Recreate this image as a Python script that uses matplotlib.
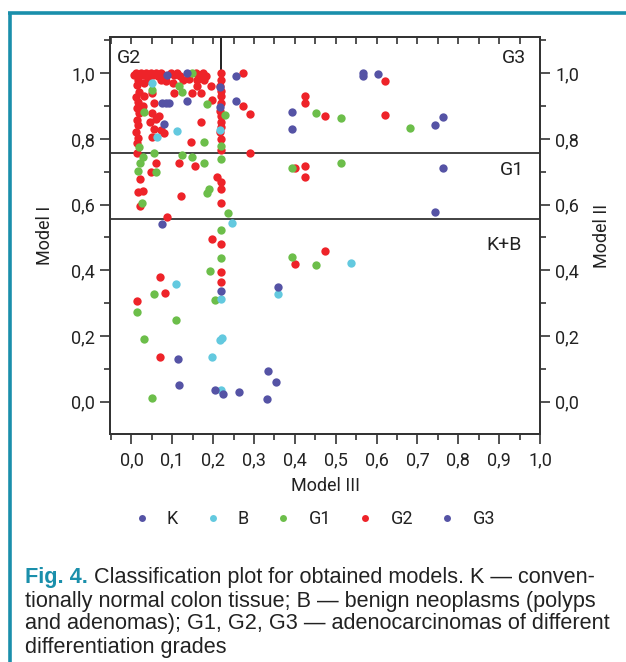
import matplotlib
matplotlib.use("Agg")
import matplotlib.pyplot as plt
from matplotlib.lines import Line2D
from matplotlib.ticker import MultipleLocator, FuncFormatter

# ---------------- data ----------------
k_x = [0.074, 0.218, 0.359, 0.114, 0.335, 0.355, 0.116, 0.205, 0.224, 0.263, 0.333]
k_y = [0.541, 0.337, 0.348, 0.130, 0.093, 0.061, 0.050, 0.036, 0.023, 0.030, 0.007]

b_x = [0.051, 0.112, 0.062, 0.217, 0.247, 0.218, 0.108, 0.221, 0.217, 0.196, 0.218, 0.358, 0.538]
b_y = [0.971, 0.825, 0.806, 0.827, 0.545, 0.314, 0.359, 0.193, 0.188, 0.137, 0.036, 0.328, 0.423]

g1_x = [0.149, 0.116, 0.123, 0.051, 0.186, 0.031, 0.230, 0.178, 0.218, 0.019, 0.029, 0.055,
        0.123, 0.148, 0.021, 0.017, 0.061, 0.178, 0.218, 0.186, 0.191, 0.027, 0.236, 0.218,
        0.218, 0.192, 0.205, 0.055, 0.013, 0.108, 0.031, 0.050, 0.392, 0.452, 0.452, 0.513,
        0.681, 0.513, 0.392]
g1_y = [1.000, 0.961, 0.944, 0.948, 0.906, 0.883, 0.872, 0.792, 0.777, 0.774, 0.746, 0.758,
        0.751, 0.744, 0.726, 0.703, 0.700, 0.728, 0.738, 0.634, 0.647, 0.606, 0.573, 0.523,
        0.439, 0.398, 0.310, 0.328, 0.272, 0.249, 0.191, 0.011, 0.442, 0.416, 0.878, 0.863,
        0.832, 0.726, 0.710]

g2_x = [0.006, 0.011, 0.017, 0.023, 0.029, 0.035, 0.041, 0.047, 0.053, 0.059, 0.065, 0.072,
        0.078, 0.084, 0.096, 0.104, 0.112, 0.120, 0.157, 0.165, 0.170, 0.176, 0.182,
        0.015, 0.040, 0.072, 0.084, 0.125, 0.141, 0.161, 0.178,
        0.014, 0.018, 0.012, 0.016, 0.013, 0.019, 0.014, 0.017, 0.012, 0.016, 0.013,
        0.030, 0.031, 0.029,
        0.050, 0.055, 0.050, 0.060, 0.045, 0.055, 0.068, 0.072, 0.080, 0.051,
        0.101, 0.104, 0.161, 0.149, 0.170, 0.170, 0.145, 0.198, 0.194,
        0.218, 0.220, 0.217, 0.219, 0.218, 0.220, 0.217, 0.219, 0.218, 0.220, 0.217, 0.219,
        0.218, 0.218, 0.218, 0.218, 0.218, 0.218, 0.218, 0.210, 0.196,
        0.274, 0.274, 0.290, 0.290, 0.426, 0.426, 0.473, 0.620, 0.620, 0.400, 0.426, 0.426,
        0.013, 0.061, 0.047, 0.116, 0.155, 0.021, 0.017, 0.029, 0.021, 0.122, 0.088,
        0.070, 0.081, 0.013, 0.070, 0.400, 0.473]
g2_y = [0.995, 1.000, 0.990, 1.000, 0.995, 1.000, 0.990, 1.000, 0.995, 1.000, 0.990, 1.000,
        0.995, 0.990, 1.000, 0.995, 1.000, 0.990, 1.000, 0.990, 0.995, 1.000, 0.990,
        0.980, 0.978, 0.980, 0.976, 0.980, 0.982, 0.978, 0.980,
        0.964, 0.944, 0.929, 0.913, 0.893, 0.878, 0.858, 0.843, 0.822, 0.802, 0.786,
        0.970, 0.930, 0.900,
        0.940, 0.910, 0.880, 0.860, 0.850, 0.830, 0.870, 0.827, 0.817, 0.805,
        0.971, 0.941, 0.961, 0.939, 0.939, 0.852, 0.792, 0.918, 0.960,
        1.000, 0.980, 0.960, 0.945, 0.930, 0.910, 0.885, 0.870, 0.850, 0.835, 0.820, 0.800,
        0.766, 0.670, 0.647, 0.604, 0.479, 0.396, 0.366, 0.685, 0.494,
        1.000, 0.900, 0.875, 0.756, 0.932, 0.908, 0.870, 0.975, 0.873, 0.712, 0.716, 0.685,
        0.758, 0.728, 0.699, 0.726, 0.719, 0.677, 0.637, 0.642, 0.596, 0.626, 0.563,
        0.381, 0.332, 0.308, 0.137, 0.418, 0.460]

g3_x = [0.088, 0.137, 0.257, 0.217, 0.076, 0.085, 0.093, 0.135, 0.217, 0.257, 0.080,
        0.394, 0.394, 0.567, 0.567, 0.604, 0.744, 0.763, 0.763, 0.744]
g3_y = [0.995, 1.000, 0.992, 0.959, 0.908, 0.908, 0.908, 0.916, 0.898, 0.916, 0.845,
        0.883, 0.829, 0.990, 1.000, 0.998, 0.842, 0.866, 0.710, 0.577]

series_labels = ["K", "B", "G1", "G2", "G3"]
tick_vals_x = [0.0, 0.1, 0.2, 0.3, 0.4, 0.5, 0.6, 0.7, 0.8, 0.9, 1.0]
tick_vals_y = [0.0, 0.2, 0.4, 0.6, 0.8, 1.0]

h_line_hi = 0.758
h_line_lo = 0.557
v_line_x = 0.219

# ---------------- style ----------------
C_IND = "#5553a5"
C_CYAN = "#63c9df"
C_GREEN = "#6cbe4a"
C_RED = "#ee2329"
C_TEAL = "#1a8fab"
AX_COL = "#333333"
TXT = "#222222"

chart_font = ["Roboto", "DejaVu Sans"]
cap_font = ["Liberation Sans", "DejaVu Sans"]
plt.rcParams["font.family"] = chart_font
plt.rcParams["font.stretch"] = "condensed"

W, H = 626, 662
fig = plt.figure(figsize=(W / 100, H / 100), dpi=100)
fig.patch.set_facecolor("white")

ax = fig.add_axes([110.2 / W, 1 - 434.3 / H, (540 - 110.2) / W, (434.3 - 36.7) / H])
ax.set_xlim(-0.052, 1.0)
ax.set_ylim(-0.099, 1.111)

ms = 36
ax.scatter(g2_x, g2_y, s=ms, c=C_RED, linewidths=0, zorder=3)
ax.scatter(g1_x, g1_y, s=ms, c=C_GREEN, linewidths=0, zorder=4)
ax.scatter(b_x, b_y, s=ms, c=C_CYAN, linewidths=0, zorder=4)
ax.scatter(k_x, k_y, s=ms, c=C_IND, linewidths=0, zorder=5)
ax.scatter(g3_x, g3_y, s=ms, c=C_IND, linewidths=0, zorder=5)

ax.axhline(h_line_hi, color=AX_COL, lw=1.3, zorder=2)
ax.axhline(h_line_lo, color=AX_COL, lw=1.3, zorder=2)
ax.plot([v_line_x, v_line_x], [h_line_hi, 1.111], color="#111111", lw=1.3, zorder=2)

for s in ax.spines.values():
    s.set_color(AX_COL)
    s.set_linewidth(1.3)

fmt = FuncFormatter(lambda v, p: f"{v:.1f}".replace(".", ","))
ax.set_xticks(tick_vals_x)
ax.xaxis.set_minor_locator(MultipleLocator(0.05))
ax.set_yticks(tick_vals_y)
ax.yaxis.set_minor_locator(MultipleLocator(0.1))
ax.xaxis.set_major_formatter(fmt)
ax.yaxis.set_major_formatter(fmt)
ax.tick_params(axis="x", which="major", direction="out", length=7, width=1.2,
               colors=AX_COL, labelcolor=TXT, labelsize=13, pad=5, top=True)
ax.tick_params(axis="x", which="minor", direction="out", length=4, width=1.2,
               colors=AX_COL, top=True)
ax.tick_params(axis="y", which="major", direction="out", length=7, width=1.2,
               colors=AX_COL, labelcolor=TXT, labelsize=13, pad=4)
ax.tick_params(axis="y", which="minor", direction="out", length=4, width=1.2,
               colors=AX_COL)
for t in ax.xaxis.get_major_ticks() + ax.xaxis.get_minor_ticks():
    t.tick2line.set_marker(3)
    t.tick2line.set_markersize(5)

ax2 = ax.twinx()
ax2.set_ylim(ax.get_ylim())
ax2.set_yticks(tick_vals_y)
ax2.yaxis.set_minor_locator(MultipleLocator(0.1))
ax2.yaxis.set_major_formatter(fmt)
ax2.tick_params(axis="y", which="major", direction="out", length=7, width=1.2,
                colors=AX_COL, labelcolor=TXT, labelsize=13, pad=4)
ax2.tick_params(axis="y", which="minor", direction="out", length=4, width=1.2,
                colors=AX_COL)
for s in ax2.spines.values():
    s.set_color(AX_COL)
    s.set_linewidth(1.3)

ax.set_xlabel("Model III", fontsize=13, color=TXT, labelpad=6)
ax.set_ylabel("Model I", fontsize=13, color=TXT, labelpad=12)
ax2.set_ylabel("Model II", fontsize=13, color=TXT, labelpad=10)

ax.text(-0.035, 1.047, "G2", fontsize=14, color=TXT, ha="left", va="center")
ax.text(0.965, 1.047, "G3", fontsize=14, color=TXT, ha="right", va="center")
ax.text(0.96, 0.706, "G1", fontsize=14, color=TXT, ha="right", va="center")
ax.text(0.955, 0.477, "K+B", fontsize=14, color=TXT, ha="right", va="center")

handles = [Line2D([], [], ls="none", marker="o", ms=5, mec="none", mfc=c)
           for c in [C_IND, C_CYAN, C_GREEN, C_RED, C_IND]]
fig.legend(handles, series_labels, loc="center", bbox_to_anchor=(313 / W, 1 - 519 / H),
           ncol=5, frameon=False, fontsize=13, handletextpad=0.8, columnspacing=1.3,
           handlelength=1.2, labelcolor=TXT)

# border
fig.add_artist(Line2D([9.5 / W, 9.5 / W], [0, 1 - 12.5 / H], color=C_TEAL, lw=2.6,
                      transform=fig.transFigure, solid_capstyle="butt"))
fig.add_artist(Line2D([8.2 / W, 1.0], [1 - 13.2 / H, 1 - 13.2 / H], color=C_TEAL, lw=2.6,
                      transform=fig.transFigure, solid_capstyle="butt"))

# caption
cap_lines = [
    " Classification plot for obtained models. K \u2014 conven-",
    "tionally normal colon tissue; B \u2014 benign neoplasms (polyps",
    "and adenomas); G1, G2, G3 \u2014 adenocarcinomas of different",
    "differentiation grades",
]
cap_y = [577, 601, 624, 647]
fs_cap = 15.6
x0 = 25 / W
t_bold = fig.text(x0, 1 - cap_y[0] / H, "Fig. 4.", fontsize=fs_cap, fontweight="bold",
                  color=C_TEAL, family=cap_font, stretch="normal", va="center", ha="left")
fig.canvas.draw()
bb = t_bold.get_window_extent(renderer=fig.canvas.get_renderer())
x_after = bb.x1 / W
fig.text(x_after, 1 - cap_y[0] / H, cap_lines[0], fontsize=fs_cap, color=TXT,
         family=cap_font, stretch="normal", va="center", ha="left")
for line, yy in zip(cap_lines[1:], cap_y[1:]):
    fig.text(x0, 1 - yy / H, line, fontsize=fs_cap, color=TXT, family=cap_font,
             stretch="normal", va="center", ha="left")

fig.savefig("out.png", dpi=100, facecolor="white")
